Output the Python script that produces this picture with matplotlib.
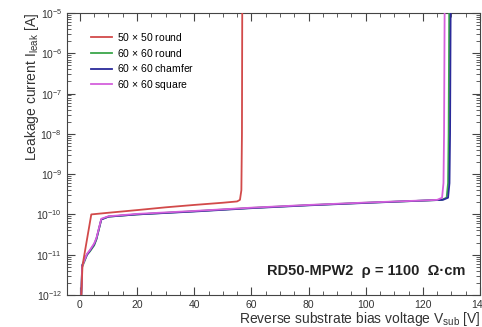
import matplotlib.pyplot as plt
from matplotlib.ticker import MultipleLocator, LogLocator, NullFormatter

plt.rcParams['font.family'] = ['Liberation Sans', 'DejaVu Sans']
plt.rcParams['mathtext.fontset'] = 'custom'
plt.rcParams['mathtext.rm'] = 'Liberation Sans'
plt.rcParams['mathtext.it'] = 'Liberation Sans:italic'

# ---- data (V in volts, I in amps) ----
v_50_round = [0.5, 0.9, 1.2, 4.0, 10, 20, 30, 40, 50, 55.0, 56.0, 56.5, 56.7, 56.8]
i_50_round = [1e-12, 5e-12, 7e-12, 1.0e-10, 1.1e-10, 1.28e-10, 1.5e-10, 1.72e-10,
              1.95e-10, 2.1e-10, 2.3e-10, 4e-10, 1e-8, 1e-5]

v_60_round = [0.5, 0.8, 1.5, 2.5, 3.5, 5.0, 5.8, 7.5, 10, 20, 40, 60, 80, 100, 120,
              126.5, 128.3, 128.8, 129.0, 129.2]
i_60_round = [1e-12, 5e-12, 6.5e-12, 1.0e-11, 1.2e-11, 1.7e-11, 2.4e-11, 7.5e-11,
              8.8e-11, 1.0e-10, 1.2e-10, 1.45e-10, 1.7e-10, 1.95e-10, 2.2e-10,
              2.3e-10, 2.6e-10, 6e-10, 1e-8, 1e-5]

v_60_chamfer = [0.5, 0.8, 1.5, 2.5, 3.5, 5.0, 5.8, 7.5, 10, 20, 40, 60, 80, 100, 120,
                127.0, 128.8, 129.3, 129.5, 129.7]
i_60_chamfer = [1e-12, 5.5e-12, 7e-12, 1.0e-11, 1.25e-11, 1.8e-11, 2.5e-11, 7.5e-11,
                8.8e-11, 1.0e-10, 1.18e-10, 1.43e-10, 1.68e-10, 1.93e-10, 2.2e-10,
                2.3e-10, 2.6e-10, 6e-10, 1e-8, 1e-5]

v_60_square = [0.5, 0.8, 1.5, 2.5, 3.5, 5.0, 5.8, 7.5, 10, 20, 40, 60, 80, 100, 120,
               125.0, 126.7, 127.2, 127.4, 127.6]
i_60_square = [1e-12, 5e-12, 7e-12, 1.05e-11, 1.3e-11, 1.9e-11, 2.6e-11, 7.8e-11,
               9.0e-11, 1.03e-10, 1.22e-10, 1.47e-10, 1.72e-10, 1.97e-10, 2.22e-10,
               2.3e-10, 2.6e-10, 6e-10, 1e-8, 1e-5]

labels = [r'50 $\times$ 50 round', r'60 $\times$ 60 round',
          r'60 $\times$ 60 chamfer', r'60 $\times$ 60 square']
colors = ['#d24a4a', '#3aa64a', '#2a2a9a', '#d460dc']

fig = plt.figure(figsize=(4.82, 3.27), dpi=100)
ax = fig.add_axes([0.139, 0.098, 0.857, 0.862])

series = [(v_60_round, i_60_round), (v_60_chamfer, i_60_chamfer),
          (v_60_square, i_60_square), (v_50_round, i_50_round)]
order = [1, 2, 3, 0]
for (v, i), k in zip(series, order):
    ax.plot(v, i, color=colors[k], lw=1.3, label=labels[k], zorder=3 if k else 4)

ax.set_yscale('log')
ax.set_xlim(-4.5, 140)
ax.set_ylim(1e-12, 1e-5)

ax.xaxis.set_major_locator(MultipleLocator(20))
ax.xaxis.set_minor_locator(MultipleLocator(5))
ax.yaxis.set_major_locator(LogLocator(base=10, numticks=10))
ax.yaxis.set_minor_locator(LogLocator(base=10, subs=range(2, 10), numticks=10))
ax.yaxis.set_minor_formatter(NullFormatter())
ax.tick_params(which='both', direction='in', top=True, right=True,
               labelsize=7.5, labelcolor='#333333', color='#444444')
ax.tick_params(which='major', length=6)
ax.tick_params(which='minor', length=3)
for s in ax.spines.values():
    s.set_color('#444444')

ax.set_xlabel(r'Reverse substrate bias voltage V$_{\mathrm{sub}}$ [V]',
              fontsize=10, loc='right', color='#333333', labelpad=0)
ax.set_ylabel(r'Leakage current I$_{\mathrm{leak}}$ [A]',
              fontsize=10, loc='top', color='#333333', labelpad=-3)

h, l = ax.get_legend_handles_labels()
idx = [l.index(x) for x in labels]
ax.legend([h[j] for j in idx], [l[j] for j in idx], loc='upper left',
          bbox_to_anchor=(0.035, 0.97), frameon=False, fontsize=7.5,
          handlelength=2.0, handletextpad=0.5, labelspacing=0.35)

ax.text(0.965, 0.085, 'RD50-MPW2  ρ = 1100  Ω·cm', transform=ax.transAxes,
        ha='right', va='center', fontsize=10.5, fontweight='bold', color='#222222')

fig.savefig('out.png', dpi=100)
